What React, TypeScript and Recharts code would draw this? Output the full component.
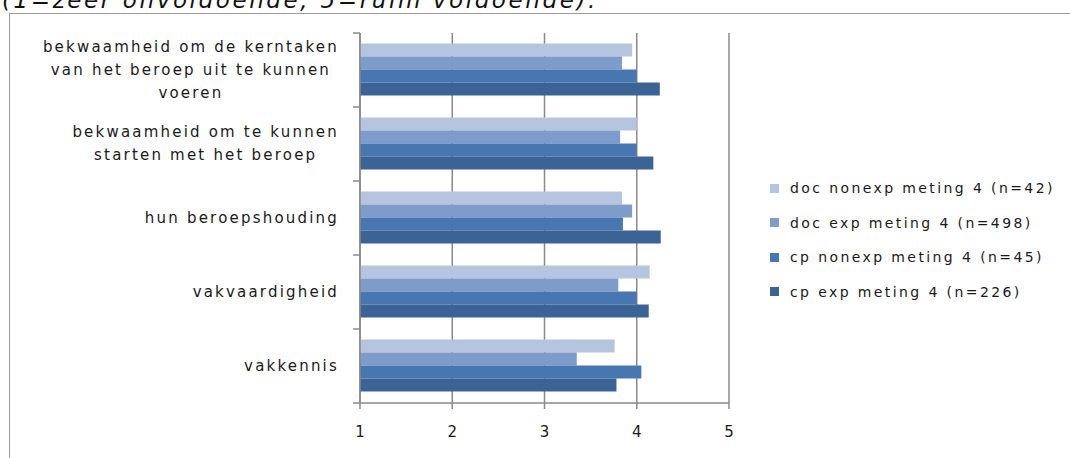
import React from 'react'
import {
  BarChart,
  Bar,
  XAxis,
  YAxis,
  CartesianGrid,
} from 'recharts'

const categories = [
  'bekwaamheid om de kerntaken|van het beroep uit te kunnen|voeren',
  'bekwaamheid om te kunnen|starten met het beroep',
  'hun beroepshouding',
  'vakvaardigheid',
  'vakkennis',
]

const docNonexp = [3.95, 4.0, 3.84, 4.14, 3.76]
const docExp = [3.84, 3.82, 3.95, 3.8, 3.35]
const cpNonexp = [4.0, 4.0, 3.85, 4.0, 4.05]
const cpExp = [4.25, 4.18, 4.26, 4.13, 3.78]

const xTicks = [1, 2, 3, 4, 5]

const series = [
  { key: 'docNonexp', name: 'doc nonexp meting 4 (n=42)', color: '#b5c4df' },
  { key: 'docExp', name: 'doc exp meting 4 (n=498)', color: '#7e9cc9' },
  { key: 'cpNonexp', name: 'cp nonexp meting 4 (n=45)', color: '#4876b0' },
  { key: 'cpExp', name: 'cp exp meting 4 (n=226)', color: '#3b6395' },
]

const data = categories.map((label, i) => ({
  label,
  docNonexp: docNonexp[i],
  docExp: docExp[i],
  cpNonexp: cpNonexp[i],
  cpExp: cpExp[i],
}))

const W = 1070
const H = 458
const PLOT_TOP = 33
const PLOT_BOTTOM = 403
const PLOT_LEFT = 360
const PLOT_RIGHT = 729
const BAND = (PLOT_BOTTOM - PLOT_TOP) / categories.length

const FONT = '"DejaVu Sans", Verdana, sans-serif'
const AXIS = '#8a8a8a'
const TEXT = '#1a1a1a'

// category labels are centred as a block, the block sits against the axis;
// tick marks go on the band edges, not on the band centres
function CategoryTick(props: any) {
  const { y, payload, index } = props
  const lines = String(payload.value).split('|')
  const boxH = 90
  return (
    <g>
      <line x1={PLOT_LEFT - 7} x2={PLOT_LEFT} y1={y - BAND / 2} y2={y - BAND / 2} stroke={AXIS} strokeWidth={1.5} />
      {index === categories.length - 1 && (
        <line x1={PLOT_LEFT - 7} x2={PLOT_LEFT} y1={y + BAND / 2} y2={y + BAND / 2} stroke={AXIS} strokeWidth={1.5} />
      )}
      <foreignObject x={0} y={y - boxH / 2} width={339} height={boxH}>
        <div
          style={{
            height: boxH,
            display: 'flex',
            alignItems: 'center',
            justifyContent: 'flex-end',
          }}
        >
          <div
            style={{
              textAlign: 'center',
              fontFamily: FONT,
              fontSize: 15,
              letterSpacing: 2.2,
              lineHeight: '23px',
              color: TEXT,
              whiteSpace: 'nowrap',
            }}
          >
            {lines.map((l, i) => (
              <div key={i}>{l}</div>
            ))}
          </div>
        </div>
      </foreignObject>
    </g>
  )
}

function LegendBox() {
  return (
    <div style={{ fontFamily: FONT, fontSize: 14, letterSpacing: 2.4, color: TEXT }}>
      {series.map((s) => (
        <div key={s.key} style={{ display: 'flex', alignItems: 'center', height: 34.5, whiteSpace: 'nowrap' }}>
          <span style={{ width: 9, height: 9, background: s.color, marginRight: 11, display: 'inline-block' }} />
          <span>{s.name}</span>
        </div>
      ))}
    </div>
  )
}

export default function App() {
  return (
    <div
      style={{
        position: 'absolute',
        left: 0,
        top: 0,
        width: W,
        height: H,
        overflow: 'hidden',
        background: '#fff',
      }}
    >
      <div
        style={{
          position: 'absolute',
          left: 2,
          top: -13.5,
          fontFamily: FONT,
          fontStyle: 'italic',
          fontSize: 23,
          letterSpacing: 2.6,
          color: '#111',
          whiteSpace: 'nowrap',
          lineHeight: '26px',
        }}
      >
        (1=zeer onvoldoende; 5=ruim voldoende).
      </div>
      <div
        style={{
          position: 'absolute',
          left: 9,
          top: 13,
          width: W,
          height: H,
          borderLeft: '1.5px solid #9a9a9a',
          borderTop: '1.5px solid #9a9a9a',
        }}
      />
      <div style={{ position: 'absolute', left: 0, top: 0 }}>
        <BarChart
          width={W}
          height={H}
          data={data}
          layout="vertical"
          margin={{ top: PLOT_TOP, right: W - PLOT_RIGHT, bottom: 0, left: 0 }}
          barCategoryGap={10.5}
          barGap={0}
        >
          <CartesianGrid vertical horizontal={false} stroke={AXIS} strokeWidth={1.5} />
          <XAxis
            type="number"
            domain={[1, 5]}
            ticks={xTicks}
            height={H - PLOT_BOTTOM}
            stroke={AXIS}
            strokeWidth={1.5}
            tickSize={6}
            tickMargin={17}
            tick={{ fontFamily: FONT, fontSize: 15, fill: TEXT }}
          />
          <YAxis
            type="category"
            dataKey="label"
            width={PLOT_LEFT}
            stroke={AXIS}
            strokeWidth={1.5}
            tickLine={false}
            interval={0}
            tick={<CategoryTick />}
          />
          {series.map((s) => (
            <Bar
              key={s.key}
              dataKey={s.key}
              name={s.name}
              fill={s.color}
              isAnimationActive={false}
            />
          ))}
        </BarChart>
      </div>
      <div style={{ position: 'absolute', left: 770, top: 171 }}>
        <LegendBox />
      </div>
    </div>
  )
}
